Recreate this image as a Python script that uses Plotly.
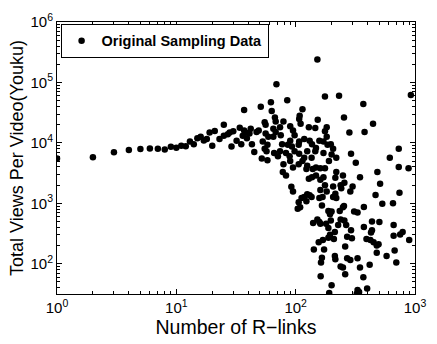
import plotly.graph_objects as go

# Number of R-links per video
r_links = [
    1, 2, 3, 4, 5, 6, 7, 8, 9, 10,
    11, 12, 13, 14, 15, 16, 17, 18, 19, 20, 21, 23, 25, 25, 27, 28, 29, 30, 32, 34,
    35, 36, 38, 39, 42, 43, 45, 37, 37, 41,
    152, 69, 176, 231, 369, 923, 85, 62, 51, 63, 114, 254, 445, 282, 378,
    153, 182, 108, 67, 68, 55, 56, 65, 74, 79, 90, 95, 107, 110, 129, 146, 176, 182,
    171, 158, 148, 137, 131, 118, 107, 106, 98, 90, 86, 77, 75, 68, 65, 59, 56, 53,
    49, 47,
    185, 197, 206, 219, 200, 190, 171, 146, 136, 125, 118, 107, 98, 93, 89, 83, 74,
    71, 66, 58, 55, 57, 52, 58,
    79, 83, 78, 90, 95, 106, 114, 123, 129, 137, 148, 161, 176, 219, 249, 291, 319,
    346, 484, 615, 731, 731, 883,
    125, 139, 148, 171, 161,
    215, 256, 238, 206, 241, 300, 510, 287, 215, 206, 219, 741, 467, 532, 654, 254, 373,
    92, 95, 118, 125, 131, 112, 123, 106, 136, 158, 168, 161, 182, 176,
    104, 109, 166, 188, 194, 200, 140, 152, 158, 161, 180, 188, 209, 156, 169, 188,
    142, 173, 166, 163, 213, 162, 200, 191,
    234, 249, 309, 330, 197, 227, 238, 256, 265, 291, 373, 436, 503, 662, 436, 428,
    213, 270, 296, 392, 423, 450, 478, 495, 662, 751, 788, 894, 194, 260, 215, 270,
    287, 330, 478, 578, 675, 697, 238, 249, 346, 417, 260, 369, 330, 340, 397, 325,
]

# Total views per video (Youku)
total_views = [
    5500, 5800, 7000, 7600, 7900, 8100, 8000, 7800, 8600, 8300,
    9000, 8800, 10500, 9500, 11900, 12600, 11000, 11600, 14800, 9000, 15700, 11600,
    19900, 13100, 13900, 14800, 8700, 15600, 10800, 17800,
    9500, 13100, 14800, 11900, 17200, 9500, 7100, 35000, 16100, 14300,
    240000, 93000, 58600, 60000, 44000, 62000, 50600, 47000, 39500, 33700, 35900,
    26400, 20700, 14800, 15200,
    24200, 18200, 28100, 26400, 22500, 21900, 19900, 17200, 18200, 22500, 18900,
    16100, 24800, 20700, 18200, 17600, 15600, 12600,
    10500, 10800, 8200, 9500, 10800, 11600, 10500, 9300, 13400, 10800, 9300, 9500,
    13400, 15200, 12600, 12600, 14300, 10500,
    16100, 15200,
    9300, 9500, 8000, 5700, 6400, 5000, 6800, 7300, 5700, 7300, 5700, 6600, 7300,
    8700, 6000, 6800, 7300,
    6000, 6800, 9300, 8000, 7300, 5500, 5150,
    4450, 2900, 3300, 5000, 3900, 4450, 5000, 3700, 2560, 2700, 3900, 3800, 3800,
    3300, 2900, 6600, 4700,
    2700, 3300, 5700, 8000, 4000, 3800,
    4200, 3700, 2900, 2700, 2450,
    2650, 2200, 2000, 1900, 1770, 1900, 2100, 1570, 1440, 1270, 1220, 1500, 1370,
    980, 1000, 900, 870,
    1880, 1570, 1270, 1410, 1360, 1220, 1080, 1040, 1270, 1220, 1270, 1660, 1570, 2000,
    810, 860, 920, 750, 660, 735, 475, 540, 490, 458, 460, 390, 258, 227, 248, 270,
    172, 172, 126, 105, 134, 62, 44, 33,
    750, 860, 735, 705, 520, 440, 540, 520, 440, 360, 405, 500, 490, 440, 360, 330,
    337, 280, 265, 258, 248, 228, 200, 210, 290, 305, 337, 248, 302, 194, 119, 123,
    116, 123, 152, 134, 166, 105, 90, 87, 87, 96, 67, 60, 37, 34, 39, 32,
]

x_ticks = [1, 10, 100, 1000]
x_tick_labels = ["10<sup>0</sup>", "10<sup>1</sup>", "10<sup>2</sup>", "10<sup>3</sup>"]
y_ticks = [100, 1000, 10000, 100000, 1000000]
y_tick_labels = ["10<sup>2</sup>", "10<sup>3</sup>", "10<sup>4</sup>", "10<sup>5</sup>", "10<sup>6</sup>"]

FONT = "Liberation Sans, Arial, Helvetica, sans-serif"

fig = go.Figure()
fig.add_trace(go.Scatter(
    x=r_links, y=total_views, mode="markers",
    name="<b>Original Sampling Data</b>",
    marker=dict(color="black", size=6.5, line=dict(width=0)),
))

axis_common = dict(
    type="log", showgrid=False, zeroline=False,
    showline=True, linecolor="black", linewidth=1, mirror="allticks",
    ticks="inside", ticklen=5, tickcolor="black", tickwidth=1,
    tickfont=dict(family=FONT, size=15, color="black"),
    minor=dict(ticks="inside", ticklen=3, tickcolor="black", dtick="D1", showgrid=False),
)

fig.update_xaxes(range=[0, 3], tickmode="array", tickvals=x_ticks, ticktext=x_tick_labels,
                 title=dict(text="Number of R\u2212links",
                            font=dict(family=FONT, size=19.5, color="black"), standoff=0),
                 **axis_common)
fig.update_yaxes(range=[1.5, 6], tickmode="array", tickvals=y_ticks, ticktext=y_tick_labels,
                 title=dict(text="Total Views Per Video(Youku)",
                            font=dict(family=FONT, size=18, color="black"), standoff=2),
                 **axis_common)

fig.update_layout(
    width=437, height=344,
    margin=dict(l=57, r=11, t=13, b=50),
    paper_bgcolor="white", plot_bgcolor="white",
    font=dict(family=FONT, color="black"),
    showlegend=True,
    legend=dict(x=0.01, y=0.993, xanchor="left", yanchor="top",
                bgcolor="white", bordercolor="black", borderwidth=1,
                font=dict(family=FONT, size=14.5, color="black"),
                itemwidth=30, tracegroupgap=0),
)

fig.write_html("out.html")
